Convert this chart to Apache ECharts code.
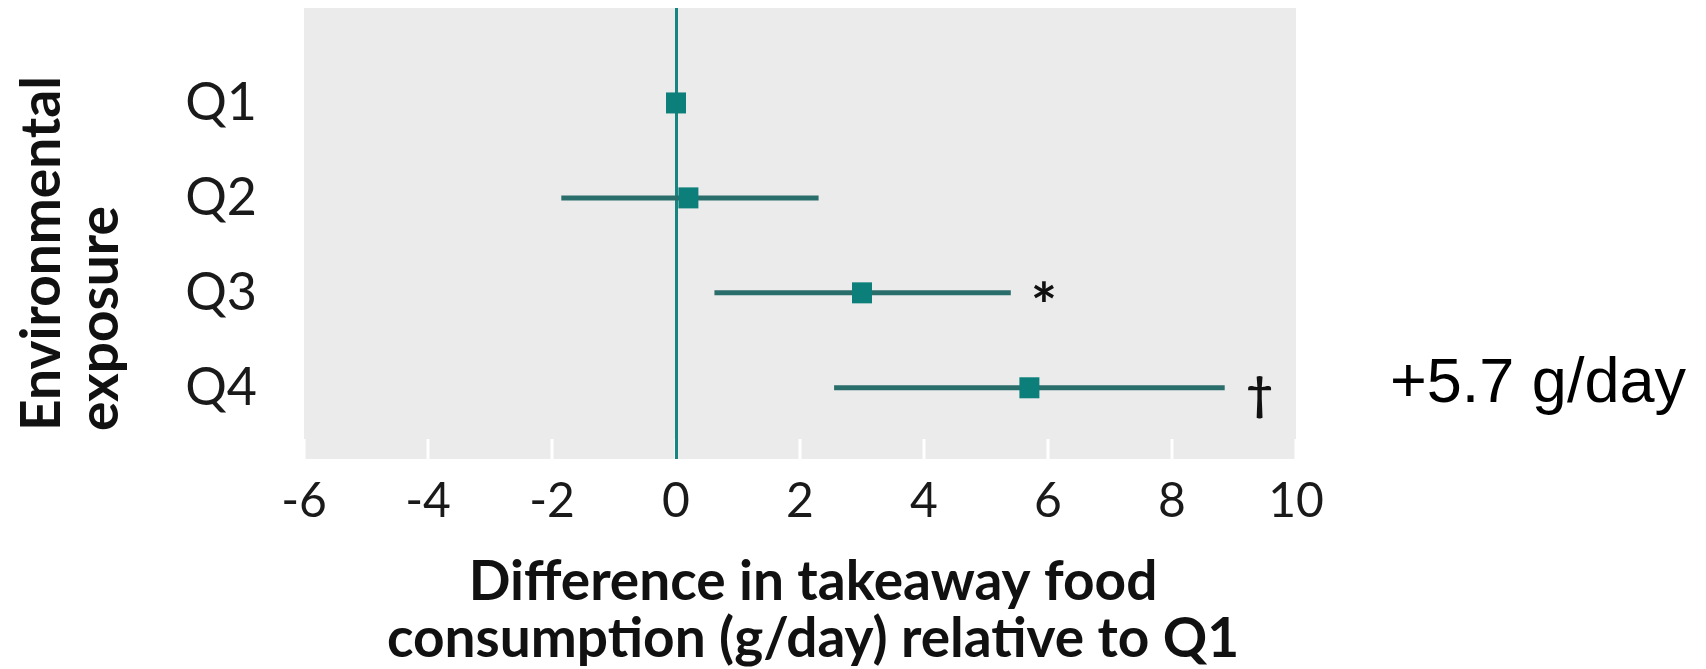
<!DOCTYPE html>
<html>
<head>
<meta charset="utf-8">
<script src="https://cdn.jsdelivr.net/npm/echarts@6/dist/echarts.min.js"></script>
<style>
  html, body { margin: 0; padding: 0; background: #fff; }
  #chart { width: 1706px; height: 669px; }
</style>
</head>
<body>
<div id="chart"></div>
<script>
// forest plot: takeaway food consumption by exposure quartile
const categories = ['Q1', 'Q2', 'Q3', 'Q4'];
const estimates = [0, 0.2, 3.0, 5.7];
const lower = [0, -1.85, 0.62, 2.55];
const upper = [0, 2.3, 5.4, 8.85];
const notes = ['', '', '*', '\u2020'];
const xTicks = [-6, -4, -2, 0, 2, 4, 6, 8, 10];

const teal = '#0c7f7a';
const ciColor = '#2a6e6b';
const yMax = 4.75;

// per-note text tweaks (the dagger sits a bit lower than the asterisk)
const noteStyle = {
  '*': { fontSize: 62, weight: 'bold', dx: 33, dy: 15 },
  '\u2020': { fontSize: 46, weight: 'bold', dx: 35, dy: 7 }
};

const chart = echarts.init(document.getElementById('chart'));

const ciData = categories.map((c, i) => [i + 1, lower[i], upper[i], notes[i]]);
const pointData = categories.map((c, i) => [estimates[i], i + 1]);

const option = {
  animation: false,
  grid: {
    left: 304,
    right: 410,
    top: 8,
    bottom: 210,
    outerBoundsMode: 'none',
    show: true,
    backgroundColor: '#ebebeb',
    borderWidth: 0
  },
  xAxis: {
    type: 'value',
    min: xTicks[0],
    max: xTicks[xTicks.length - 1],
    interval: 2,
    axisLine: { show: false },
    splitLine: { show: false },
    axisTick: { show: false },
    axisLabel: {
      margin: 19,
      fontFamily: 'Lato',
      fontSize: 48,
      color: '#1a1a1a'
    },
    name: 'Difference in takeaway food\nconsumption (g/day) relative to Q1',
    nameLocation: 'middle',
    nameGap: 95,
    nameTextStyle: {
      fontFamily: 'Lato',
      fontWeight: 'bold',
      fontSize: 55,
      lineHeight: 57,
      color: '#111',
      padding: [0, 0, 0, 26]
    }
  },
  yAxis: {
    type: 'value',
    inverse: true,
    min: 0,
    max: yMax,
    interval: 1,
    axisLine: { show: false },
    axisTick: { show: false },
    splitLine: { show: false },
    axisLabel: {
      margin: 47,
      fontFamily: 'Lato',
      fontSize: 52,
      color: '#1a1a1a',
      showMaxLabel: false,
      formatter: function (v) {
        return categories[v - 1] || '';
      }
    }
  },
  series: [
    {
      // short white ticks standing on the bottom of the panel
      type: 'custom',
      data: xTicks.map((v) => [v, yMax]),
      z: 1,
      silent: true,
      renderItem: function (params, api) {
        const p = api.coord([api.value(0), api.value(1)]);
        return {
          type: 'line',
          shape: { x1: p[0], y1: p[1], x2: p[0], y2: p[1] - 20 },
          style: { stroke: '#ffffff', lineWidth: 3 }
        };
      }
    },
    {
      type: 'custom',
      data: ciData,
      z: 3,
      encode: { x: [1, 2], y: 0 },
      renderItem: function (params, api) {
        const y = api.value(0);
        const a = api.coord([api.value(1), y]);
        const b = api.coord([api.value(2), y]);
        const note = notes[params.dataIndex];
        const children = [{
          type: 'line',
          shape: { x1: a[0], y1: a[1], x2: b[0], y2: b[1] },
          style: { stroke: ciColor, lineWidth: 5 }
        }];
        if (note) {
          const ns = noteStyle[note];
          children.push({
            type: 'text',
            x: b[0] + ns.dx,
            y: b[1] + ns.dy,
            style: {
              text: note,
              fontFamily: 'Lato',
              fontWeight: ns.weight,
              fontSize: ns.fontSize,
              fill: '#111',
              align: 'center',
              verticalAlign: 'middle'
            }
          });
        }
        return { type: 'group', children: children };
      }
    },
    {
      type: 'scatter',
      data: pointData,
      z: 4,
      symbol: 'rect',
      symbolSize: [20, 21],
      itemStyle: { color: teal, opacity: 1 },
      markLine: {
        silent: true,
        symbol: 'none',
        label: { show: false },
        lineStyle: { color: '#16847f', width: 3, type: 'solid' },
        data: [{ xAxis: 0 }],
        z: 2
      }
    }
  ],
  graphic: [
    {
      type: 'text',
      x: 71,
      y: 431,
      rotation: Math.PI / 2,
      style: {
        text: 'Environmental\nexposure',
        fontFamily: 'Lato',
        fontWeight: 'bold',
        fontSize: 55,
        lineHeight: 58,
        fill: '#111',
        align: 'left',
        verticalAlign: 'middle'
      }
    },
    {
      type: 'text',
      left: 1390,
      top: 353,
      style: {
        text: '+' + estimates[3].toFixed(1) + ' g/day',
        fontFamily: 'Liberation Sans',
        fontSize: 63,
        fill: '#000'
      }
    }
  ]
};

chart.setOption(option);
</script>
</body>
</html>
